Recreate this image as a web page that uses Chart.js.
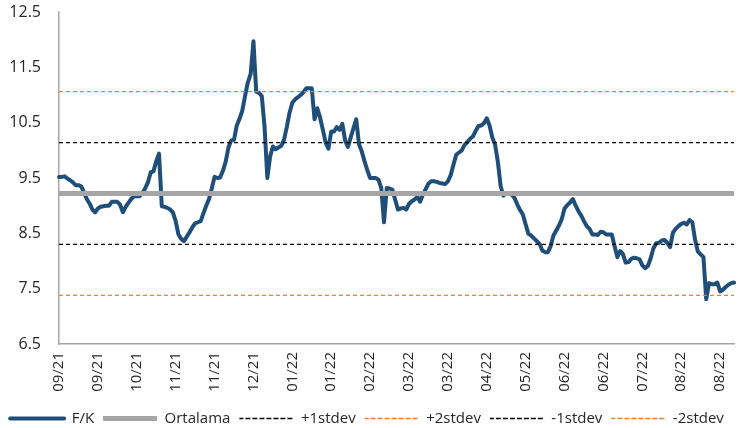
<!DOCTYPE html>
<html>
<head>
<meta charset="utf-8">
<script src="https://cdn.jsdelivr.net/npm/chart.js@4.4.0/dist/chart.umd.min.js"></script>
<style>
    html, body { margin: 0; padding: 0; background: #fff; overflow: hidden; }
    #wrap { position: relative; width: 745px; height: 436px; }
</style>
</head>
<body>
<div id="wrap"><canvas id="chart"></canvas></div>
<script>
// x-axis tick labels (one every 14 trading days)
var tickLabels = ['09/21', '09/21', '10/21', '11/21', '11/21', '12/21', '01/22', '01/22', '02/22',
    '03/22', '03/22', '04/22', '05/22', '06/22', '06/22', '07/22', '08/22', '08/22'];
var tickEvery = 14;

// F/K (P/E) daily values
var fk = [
    9.52, 9.52, 9.53, 9.49, 9.46, 9.42, 9.37, 9.37, 9.35, 9.24,
    9.12, 9.04, 8.93, 8.88, 8.95, 8.98, 8.99, 9.00, 9.00, 9.07,
    9.07, 9.07, 9.02, 8.88, 8.98, 9.05, 9.12, 9.17, 9.17, 9.17,
    9.23, 9.31, 9.42, 9.60, 9.62, 9.80, 9.94, 8.99, 8.98, 8.96,
    8.93, 8.88, 8.72, 8.48, 8.40, 8.36, 8.44, 8.52, 8.61, 8.68,
    8.70, 8.72, 8.86, 9.00, 9.12, 9.31, 9.52, 9.50, 9.51, 9.63,
    9.79, 10.05, 10.18, 10.19, 10.45, 10.57, 10.72, 10.99, 11.23, 11.38,
    11.97, 11.06, 11.04, 10.98, 10.43, 9.50, 9.89, 10.07, 10.02, 10.05,
    10.08, 10.19, 10.42, 10.68, 10.86, 10.92, 10.96, 11.00, 11.05, 11.12,
    11.12, 11.12, 10.56, 10.76, 10.59, 10.37, 10.14, 10.03, 10.34, 10.34,
    10.42, 10.37, 10.48, 10.18, 10.06, 10.23, 10.40, 10.56, 10.11, 9.98,
    9.80, 9.64, 9.50, 9.50, 9.50, 9.47, 9.32, 8.70, 9.32, 9.31,
    9.29, 9.11, 8.93, 8.95, 8.96, 8.93, 9.03, 9.08, 9.11, 9.16,
    9.07, 9.20, 9.30, 9.40, 9.44, 9.44, 9.43, 9.41, 9.40, 9.39,
    9.44, 9.55, 9.74, 9.92, 9.96, 10.00, 10.10, 10.15, 10.21, 10.25,
    10.35, 10.44, 10.45, 10.49, 10.58, 10.45, 10.23, 10.10, 9.79, 9.35,
    9.18, 9.23, 9.23, 9.20, 9.14, 9.02, 8.92, 8.84, 8.66, 8.49,
    8.46, 8.41, 8.36, 8.31, 8.19, 8.16, 8.16, 8.27, 8.46, 8.55,
    8.64, 8.76, 8.95, 9.01, 9.06, 9.12, 9.00, 8.90, 8.82, 8.72,
    8.63, 8.58, 8.48, 8.48, 8.47, 8.53, 8.52, 8.48, 8.48, 8.48,
    8.27, 8.07, 8.18, 8.13, 7.97, 7.98, 8.04, 8.06, 8.05, 8.03,
    7.92, 7.87, 7.91, 8.05, 8.23, 8.32, 8.33, 8.37, 8.38, 8.33,
    8.25, 8.51, 8.58, 8.63, 8.67, 8.69, 8.66, 8.74, 8.70, 8.38,
    8.17, 8.12, 8.07, 7.31, 7.60, 7.58, 7.58, 7.61, 7.45, 7.48,
    7.53, 7.57, 7.60, 7.61
];

// average and standard deviation bands
var ortalama = 9.22;
var stdev = 0.92;

var labels = fk.map(function(v, i) {
    return i % tickEvery === 0 ? tickLabels[i / tickEvery] : '';
});

var flat = function(value) {
    return fk.map(function() { return value; });
};

var band = function(label, value, color) {
    return {
        label: label,
        data: flat(value),
        borderColor: color,
        backgroundColor: color,
        borderWidth: 1.3,
        borderDash: [4, 3],
        pointRadius: 0,
        order: 0
    };
};

var font = "'Open Sans', sans-serif";
var textColor = '#262626';

new Chart('chart', {
    type: 'line',
    data: {
        labels: labels,
        datasets: [{
            label: 'F/K',
            data: fk,
            borderColor: '#1F4E79',
            backgroundColor: '#1F4E79',
            borderWidth: 4,
            borderJoinStyle: 'round',
            borderCapStyle: 'round',
            pointRadius: 0,
            order: 1
        }, {
            label: 'Ortalama',
            data: flat(ortalama),
            borderColor: '#A6A6A6',
            backgroundColor: '#A6A6A6',
            borderWidth: 5,
            pointRadius: 0,
            order: 0
        },
            band('+1stdev', ortalama + stdev, '#000000'),
            band('+2stdev', ortalama + 2 * stdev, '#ED7D31'),
            band('-1stdev', ortalama - stdev, '#000000'),
            band('-2stdev', ortalama - 2 * stdev, '#ED7D31')
        ]
    },
    options: {
        responsive: true,
        maintainAspectRatio: false,
        animation: false,
        layout: { padding: { top: 12, right: 11, left: 0, bottom: 0 } },
        plugins: {
            tooltip: { enabled: false },
            legend: {
                position: 'bottom',
                labels: {
                    boxWidth: 54,
                    boxHeight: 0,
                    padding: 9,
                    color: textColor,
                    font: { family: font, size: 15 },
                    sort: function(a, b) { return a.datasetIndex - b.datasetIndex; }
                }
            }
        },
        scales: {
            x: {
                grid: { display: false, drawTicks: false },
                border: { color: '#A6A6A6', width: 1.5 },
                ticks: {
                    autoSkip: false,
                    minRotation: 90,
                    maxRotation: 90,
                    padding: 8,
                    color: textColor,
                    font: { family: font, size: 15 }
                },
                afterFit: function(scale) {
                    scale.height = 58;
                    scale.paddingLeft = 0;
                    scale.paddingRight = 0;
                }
            },
            y: {
                min: 6.5,
                max: 12.5,
                grid: { display: false, drawTicks: false },
                border: { color: '#A6A6A6', width: 1.5 },
                ticks: {
                    stepSize: 1,
                    padding: 18,
                    color: textColor,
                    font: { family: font, size: 16 },
                    callback: function(v) { return v.toFixed(1); }
                },
                afterFit: function(scale) {
                    scale.width = 59;
                    scale.paddingTop = 0;
                    scale.paddingBottom = 0;
                }
            }
        }
    }
});
</script>
</body>
</html>
